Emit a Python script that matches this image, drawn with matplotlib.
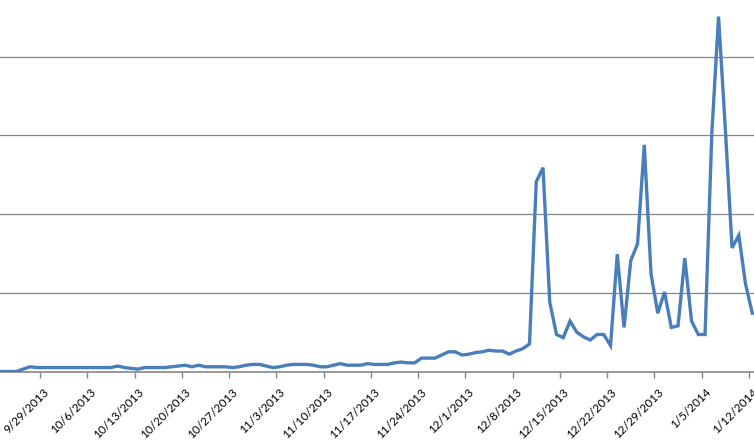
import matplotlib
matplotlib.use("Agg")
import matplotlib.pyplot as plt
from matplotlib.transforms import ScaledTranslation
import pandas as pd
import numpy as np

start_date = "2013-09-22"
values = [
    0, 0, 0, 0, 3, 6, 5,                      # 9/22 - 9/28
    5, 5, 5, 5, 5, 5, 5,                      # 9/29 - 10/5
    5, 5, 5, 5, 7, 5, 4,                      # 10/6 - 10/12
    3, 5, 5, 5, 5, 6, 7,                      # 10/13 - 10/19
    8, 6, 8, 6, 6, 6, 6,                      # 10/20 - 10/26
    5, 6, 8, 9, 9, 7, 5,                      # 10/27 - 11/2
    6, 8, 9, 9, 9, 8, 6,                      # 11/3 - 11/9
    6, 8, 10, 8, 8, 8, 10,                    # 11/10 - 11/16
    9, 9, 9, 11, 12, 11, 11,                  # 11/17 - 11/23
    17, 17, 17, 21, 25, 25, 21,               # 11/24 - 11/30
    22, 24, 25, 27, 26, 26, 22,               # 12/1 - 12/7
    26, 29, 35, 241, 259, 88, 47,             # 12/8 - 12/14
    43, 64, 50, 44, 40, 47, 47,               # 12/15 - 12/21
    33, 149, 56, 141, 162, 288, 124,          # 12/22 - 12/28
    74, 101, 56, 58, 144, 64, 47,             # 12/29 - 1/4
    47, 302, 451, 309, 157, 173, 111,         # 1/5 - 1/11
    74,                                       # 1/12
]
tick_labels = ["9/29/2013", "10/6/2013", "10/13/2013", "10/20/2013", "10/27/2013",
               "11/3/2013", "11/10/2013", "11/17/2013", "11/24/2013", "12/1/2013",
               "12/8/2013", "12/15/2013", "12/22/2013", "12/29/2013", "1/5/2014",
               "1/12/2014"]
grid_values = [100, 200, 300, 400]

dates = pd.date_range(start_date, periods=len(values), freq="D")
tick_dates = pd.to_datetime(tick_labels, format="%m/%d/%Y")

W, H = 754, 446
fig = plt.figure(figsize=(W / 100, H / 100), dpi=100)
base_px = 371.5
ax = fig.add_axes([0, (H - base_px) / H, 1, base_px / H])

# points sit between tick marks (Excel date axis style)
x = dates + pd.Timedelta(hours=12)
ax.plot(x, values, color="#4A7EBB", lw=2.4, solid_joinstyle="miter", zorder=3, clip_on=True)

t0 = tick_dates[0]
ax.set_xlim(t0 - pd.Timedelta(days=5.924), t0 + pd.Timedelta(days=105.75))
ax.set_ylim(0, 472)

for gv in grid_values:
    ax.axhline(gv, color="#868686", lw=0.9, zorder=1)

for s in ["top", "right", "left"]:
    ax.spines[s].set_visible(False)
ax.spines["bottom"].set_color("#868686")
ax.spines["bottom"].set_linewidth(1.2)
ax.set_yticks([])

ax.set_xticks(tick_dates)
ax.set_xticklabels(tick_labels, rotation=45, ha="right", va="center",
                   rotation_mode="anchor", fontsize=8.5, family=["Lato", "DejaVu Sans"],
                   color="#000000")
ax.tick_params(axis="x", length=4, width=1, color="#868686", pad=9)
shift = ScaledTranslation(7 / 100, -1 / 100, fig.dpi_scale_trans)
for lbl in ax.get_xticklabels():
    lbl.set_transform(lbl.get_transform() + shift)
ax.set_facecolor("white")
fig.patch.set_facecolor("white")

fig.savefig("out.png", dpi=100)
